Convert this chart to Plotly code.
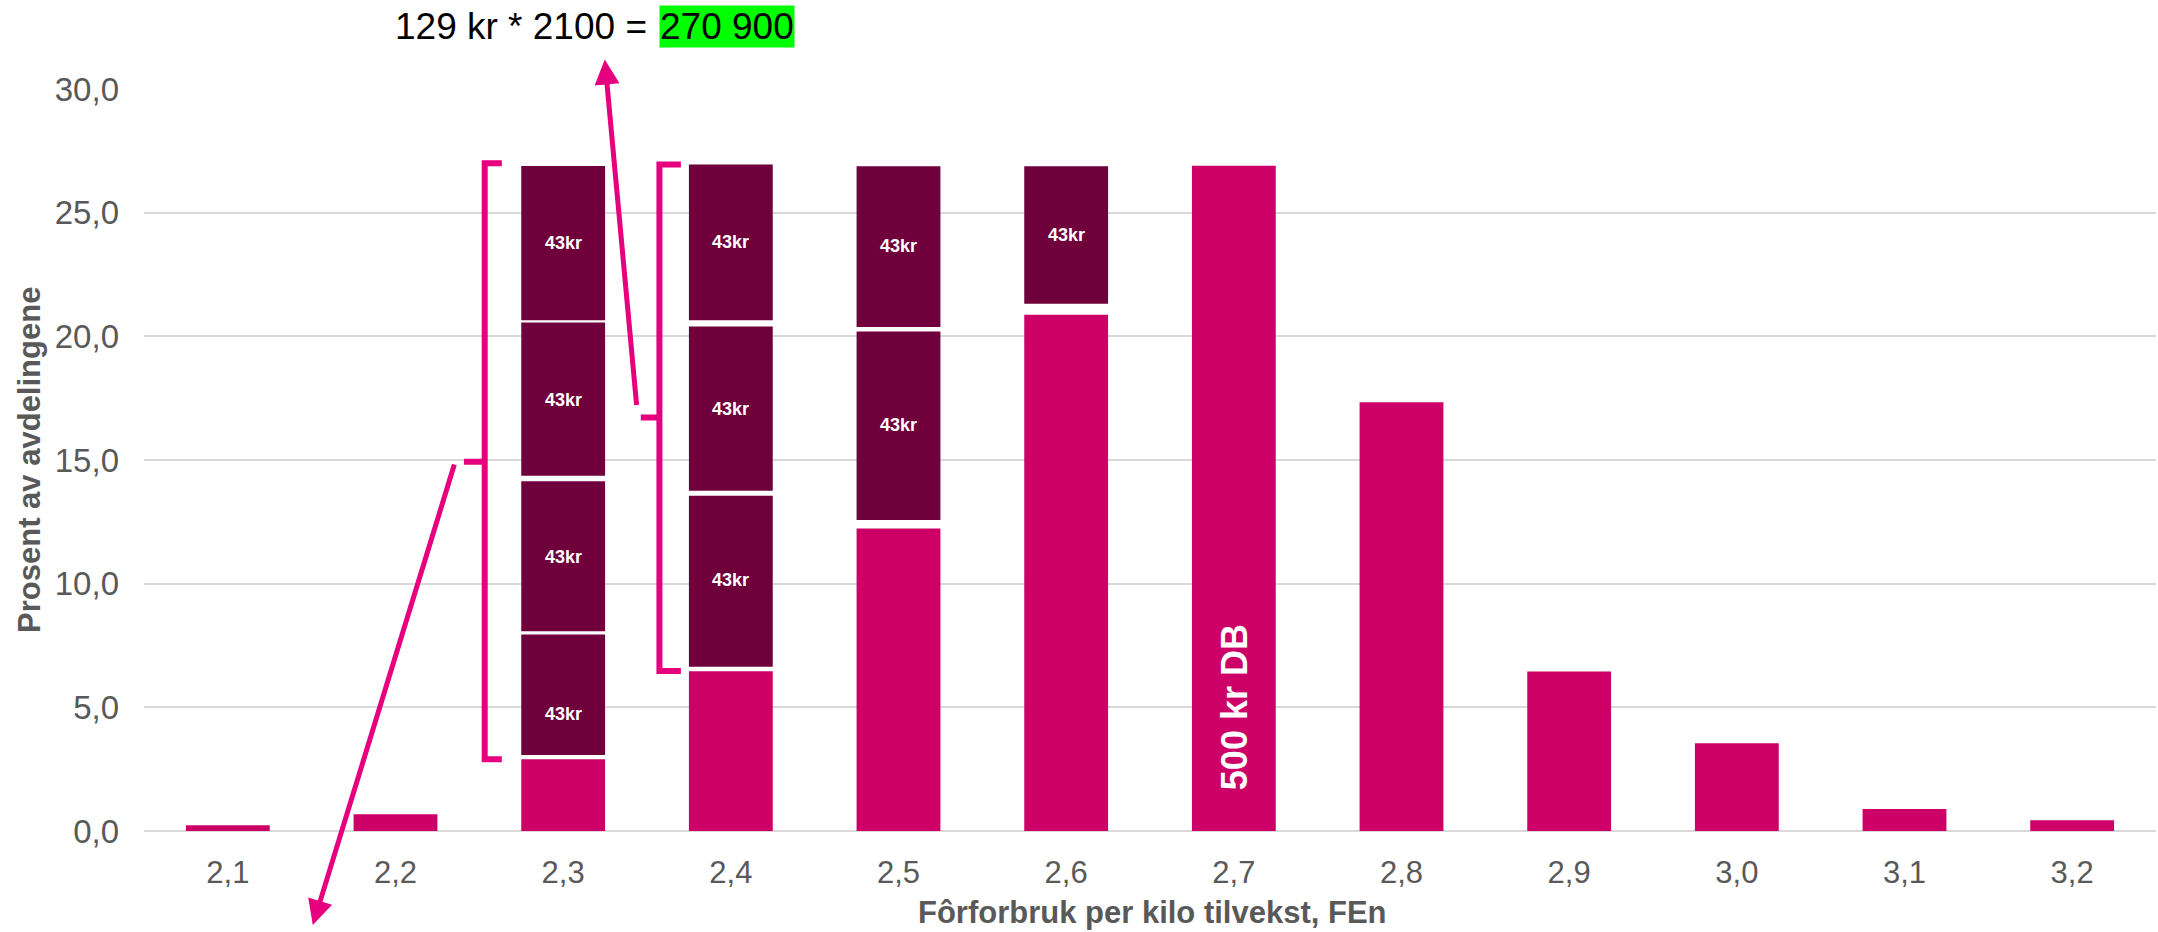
import plotly.graph_objects as go

# ---------------- data ----------------
categories = ["2,1", "2,2", "2,3", "2,4", "2,5", "2,6", "2,7", "2,8", "2,9", "3,0", "3,1", "3,2"]
share = [0.23, 0.68, 2.9, 6.46, 12.23, 20.87, 26.9, 17.33, 6.45, 3.55, 0.89, 0.43]

# dark "43kr" blocks stacked on top of the pink bars (bottom / top per category)
block_cats = ["2,3", "2,3", "2,3", "2,3", "2,4", "2,4", "2,4", "2,5", "2,5", "2,6"]
block_bottom = [3.07, 8.08, 14.36, 20.65, 6.64, 13.76, 20.65, 12.57, 20.38, 21.32]
block_top = [7.94, 14.14, 20.56, 26.89, 13.55, 20.40, 26.95, 20.20, 26.88, 26.88]
block_label = "43kr"
block_label_y = [4.73, 11.07, 17.42, 23.76, 10.13, 17.08, 23.82, 16.42, 23.65, 24.1]

db_label = "500 kr DB"
db_cat_index = 6
db_label_y = 5.0

calc_text = "129 kr * 2100 ="
calc_result = "270 900"

y_title = "Prosent av avdelingene"
x_title = "Fôrforbruk per kilo tilvekst, FEn"
y_ticks = [0, 5, 10, 15, 20, 25, 30]

# ---------------- style ----------------
PINK = "#CC0066"
DARK = "#70003C"
ACCENT = "#E6007E"
GREY = "#595959"
GRID = "#D9D9D9"
FONT = "Liberation Sans, Arial, sans-serif"

W, H = 2158, 932
ML, MR, MT, MB = 144, 2, 89, 101

fig = go.Figure()

fig.add_trace(go.Bar(
    x=categories, y=share, marker=dict(color=PINK, line=dict(width=0)),
    width=0.5, hoverinfo="x+y", showlegend=False,
))

fig.add_trace(go.Bar(
    x=block_cats,
    y=[t - b for t, b in zip(block_top, block_bottom)],
    base=block_bottom,
    marker=dict(color=DARK, line=dict(width=0)),
    width=0.5, showlegend=False, hoverinfo="skip",
))

annotations = []
cat_index = {c: i for i, c in enumerate(categories)}
for c, yv in zip(block_cats, block_label_y):
    annotations.append(dict(
        x=cat_index[c], y=yv, xref="x", yref="y", text=block_label, showarrow=False,
        font=dict(family=FONT, size=18, color="white", weight="bold"),
        xanchor="center", yanchor="middle",
    ))

annotations.append(dict(
    x=db_cat_index, y=db_label_y, xref="x", yref="y", text=db_label, showarrow=False,
    textangle=-90, font=dict(family=FONT, size=36, color="white", weight="bold"),
    xanchor="center", yanchor="middle",
))

# axis titles
annotations.append(dict(
    x=-0.0572, y=0.5, xref="paper", yref="paper", text=y_title, showarrow=False,
    textangle=-90, font=dict(family=FONT, size=31, color=GREY, weight="bold"),
    xanchor="center", yanchor="middle",
))
annotations.append(dict(
    x=0.5014, y=-0.11, xref="paper", yref="paper", text=x_title, showarrow=False,
    font=dict(family=FONT, size=31, color=GREY, weight="bold"),
    xanchor="center", yanchor="middle",
))

# calculation text on top
annotations.append(dict(
    x=0.2509, y=1.0843, xref="paper", yref="paper", text=calc_text, showarrow=False,
    font=dict(family=FONT, size=37, color="black"), xanchor="right", yanchor="middle",
))
annotations.append(dict(
    x=0.2558, y=1.0843, xref="paper", yref="paper", text=calc_result, showarrow=False,
    font=dict(family=FONT, size=37, color="black"), xanchor="left", yanchor="middle",
    bgcolor="#00FF00", borderpad=0,
))

# arrows (head in paper coords, tail offset in pixels)
annotations.append(dict(
    x=0.0839, y=-0.1268, xref="paper", yref="paper", ax=142, ay=-462,
    text="", showarrow=True, arrowhead=2, arrowsize=1.0, arrowwidth=5, arrowcolor=ACCENT,
))
annotations.append(dict(
    x=0.2290, y=1.0398, xref="paper", yref="paper", ax=32, ay=347,
    text="", showarrow=True, arrowhead=2, arrowsize=1.0, arrowwidth=5, arrowcolor=ACCENT,
))

# brackets
shapes = [
    dict(type="path", xref="x", yref="y",
         path="M 1.634,27.0 L 1.532,27.0 L 1.532,2.9 L 1.634,2.9 M 1.532,14.93 L 1.408,14.93",
         line=dict(color=ACCENT, width=6)),
    dict(type="path", xref="x", yref="y",
         path="M 2.702,26.95 L 2.574,26.95 L 2.574,6.47 L 2.702,6.47 M 2.574,16.72 L 2.463,16.72",
         line=dict(color=ACCENT, width=6)),
]

fig.update_layout(
    width=W, height=H,
    margin=dict(l=ML, r=MR, t=MT, b=MB, autoexpand=False),
    paper_bgcolor="white", plot_bgcolor="white",
    barmode="overlay", bargap=0.5,
    separators=", ",
    font=dict(family=FONT, color=GREY),
    annotations=annotations, shapes=shapes,
    showlegend=False,
)

fig.update_xaxes(
    type="category", categoryorder="array", categoryarray=categories,
    range=[-0.5, len(categories) - 0.5],
    showgrid=False, showline=False, zeroline=False, ticks="",
    tickfont=dict(family=FONT, size=31, color=GREY),
    ticklabelstandoff=20,
)
fig.update_yaxes(
    range=[0, 30], tickvals=y_ticks, tickformat=".1f",
    showgrid=True, gridcolor=GRID, gridwidth=2,
    zeroline=True, zerolinecolor=GRID, zerolinewidth=2,
    showline=False, ticks="",
    tickfont=dict(family=FONT, size=33, color=GREY),
    ticklabelstandoff=24,
)

fig.write_html("out.html", config={"displayModeBar": False})

# remove the default page margin so the figure sits at the window's top-left corner
with open("out.html", encoding="utf-8") as f:
    html = f.read()
html = html.replace("<head>", "<head><style>html,body{margin:0;padding:0;overflow:hidden;}</style>", 1)
with open("out.html", "w", encoding="utf-8") as f:
    f.write(html)
